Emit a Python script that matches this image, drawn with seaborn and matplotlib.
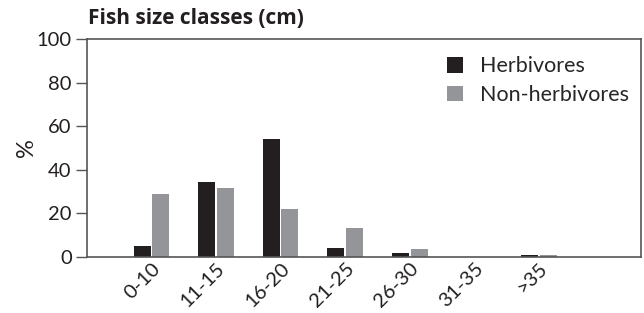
import matplotlib
matplotlib.use("Agg")
import matplotlib.pyplot as plt
import seaborn as sns
import pandas as pd

# 数据
size_classes = ["0-10", "11-15", "16-20", "21-25", "26-30", "31-35", ">35"]
herbivores = [5.2, 34.5, 54.1, 4.3, 2.0, 0.0, 1.0]
non_herbivores = [28.9, 31.8, 22.2, 13.4, 3.8, 0.0, 0.8]
groups = ["Herbivores", "Non-herbivores"]
colors = ["#231f20", "#939598"]

df = pd.DataFrame({
    "size": size_classes * 2,
    "pct": herbivores + non_herbivores,
    "group": [groups[0]] * len(size_classes) + [groups[1]] * len(size_classes),
})

sns.set_theme(style="ticks")
plt.rcParams["font.family"] = ["Lato", "DejaVu Sans"]

fig = plt.figure(figsize=(6.44, 3.13), dpi=100)
ax = fig.add_axes([0.135, 0.179, 0.86, 0.696])

sns.barplot(data=df, x="size", y="pct", hue="group", palette=colors,
            width=0.58, gap=0.09, ax=ax, saturation=1, linewidth=0)

ax.set_xlim(-1.0, 7.58)
ax.set_ylim(0, 100)
ax.set_yticks([0, 20, 40, 60, 80, 100])
ax.set_xlabel("")
ax.set_ylabel("%", fontsize=17, color="#231f20", labelpad=0)
ax.tick_params(axis="y", labelsize=14.5, length=8, width=1, color="#555555",
               labelcolor="#231f20", pad=3)
ax.tick_params(axis="x", labelsize=14.5, length=0, labelcolor="#231f20", pad=2)
for lbl in ax.get_xticklabels():
    lbl.set_rotation(45)
    lbl.set_ha("right")
    lbl.set_rotation_mode("anchor")
for sp in ax.spines.values():
    sp.set_color("#555555")
    sp.set_linewidth(1.2)

ax.legend(loc="upper right", frameon=False, fontsize=15.5, handlelength=0.75,
          handleheight=0.75, handletextpad=0.8, labelspacing=0.4,
          borderaxespad=0, bbox_to_anchor=(0.995, 0.96))

fig.text(0.137, 0.94, "Fish size classes (cm)", fontsize=15, fontweight="bold",
         family=["Open Sans", "DejaVu Sans"], color="#231f20", va="center")

fig.savefig("out.png", dpi=100)
